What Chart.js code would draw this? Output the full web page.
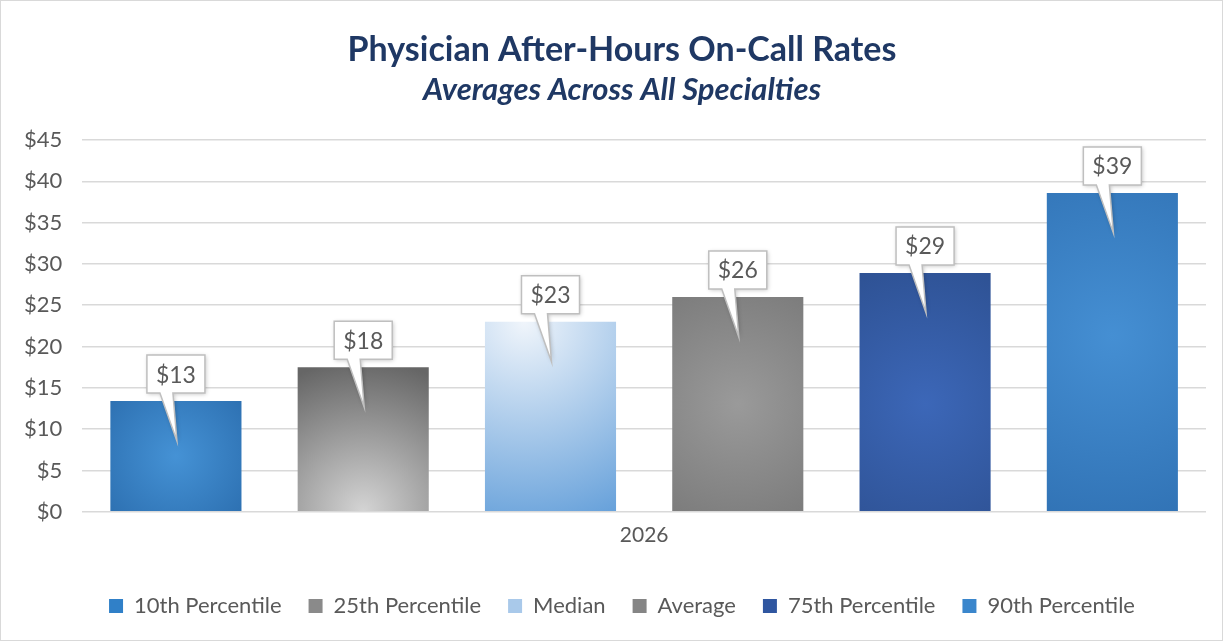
<!DOCTYPE html>
<html>
<head>
<meta charset="utf-8">
<script src="https://cdn.jsdelivr.net/npm/chart.js@4.4.1/dist/chart.umd.min.js"></script>
<style>
  html, body { margin: 0; padding: 0; background: #fff; }
  #wrap { position: relative; width: 1225px; height: 643px; }
  #frame { position: absolute; left: 0; top: 0; width: 1221px; height: 639px; border: 1px solid #d9d9d9; pointer-events: none; }
</style>
</head>
<body>
<div id="wrap">
  <canvas id="onCallChart"></canvas>
  <div id="frame"></div>
</div>
<script>
// chart data
const categories = ['2026'];
const seriesNames = ['10th Percentile', '25th Percentile', 'Median', 'Average', '75th Percentile', '90th Percentile'];
const seriesValues = [13.4, 17.5, 23.0, 26.0, 28.9, 38.6];
const yMax = 45;
const yStep = 5;

// fill styles for each bar (radial gradients, office style)
const barFills = [
  { fx: 0.5,  fy: 0.5,  r: 0.75, inner: '#4592d5', outer: '#2a6cad' },
  { fx: 0.5,  fy: 1.0,  r: 1.05, inner: '#d4d4d4', outer: '#666666' },
  { fx: 0.3,  fy: 0.0,  r: 1.25, inner: '#f0f5fb', outer: '#5596d6' },
  { fx: 0.5,  fy: 0.5,  r: 0.75, inner: '#9a9a9a', outer: '#747474' },
  { fx: 0.5,  fy: 0.55, r: 0.75, inner: '#3c67b8', outer: '#2b4d8c' },
  { fx: 0.5,  fy: 0.45, r: 0.75, inner: '#458fd3', outer: '#2c6cae' }
];
const legendSwatches = ['#3080c8', '#8a8a8a', '#a9c9ea', '#858585', '#2f56a0', '#3a86cc'];

function barGradient(context) {
  const fill = barFills[context.datasetIndex];
  const el = context.element;
  if (!el || !isFinite(el.x) || !isFinite(el.base) || !isFinite(el.width)) {
    return fill.outer;
  }
  const ctx = context.chart.ctx;
  const w = el.width;
  const h = el.base - el.y;
  const cx = el.x - w / 2 + w * fill.fx;
  const cy = el.y + h * fill.fy;
  const r = Math.max(w, h) * fill.r;
  const g = ctx.createRadialGradient(cx, cy, 0, cx, cy, r);
  g.addColorStop(0, fill.inner);
  g.addColorStop(1, fill.outer);
  return g;
}

// title, subtitle and legend sit a little right of the plot centre
const shiftBlocksPlugin = {
  id: 'shiftBlocks',
  afterLayout(chart) {
    chart.boxes.forEach(box => {
      if (box instanceof Chart.Scale) return;
      box.left += 17;
      box.right += 17;
    });
  }
};

// callout boxes above each bar
const calloutPlugin = {
  id: 'callouts',
  afterDatasetsDraw(chart) {
    const ctx = chart.ctx;
    ctx.save();
    ctx.font = '23px Lato';
    chart.data.datasets.forEach((ds, i) => {
      const bar = chart.getDatasetMeta(i).data[0];
      if (!bar) return;
      const text = '$' + Math.round(ds.data[0]);
      const bw = ctx.measureText(text).width + 18;
      const bh = 38;
      const x = bar.x;
      const top = bar.y;
      const left = x - bw / 2;
      const bottom = top - 8;
      const boxTop = bottom - bh;

      ctx.beginPath();
      ctx.moveTo(left, boxTop);
      ctx.lineTo(left + bw, boxTop);
      ctx.lineTo(left + bw, bottom);
      ctx.lineTo(x - 3, bottom);
      ctx.lineTo(x + 1, top + 40);
      ctx.lineTo(x - 16, bottom);
      ctx.lineTo(left, bottom);
      ctx.closePath();
      ctx.shadowColor = 'rgba(0,0,0,0.25)';
      ctx.shadowBlur = 4;
      ctx.shadowOffsetX = 1;
      ctx.shadowOffsetY = 1;
      ctx.fillStyle = '#ffffff';
      ctx.fill();
      ctx.shadowColor = 'transparent';
      ctx.strokeStyle = '#bfbfbf';
      ctx.lineWidth = 1.5;
      ctx.stroke();

      ctx.fillStyle = '#595959';
      ctx.textAlign = 'center';
      ctx.textBaseline = 'middle';
      ctx.fillText(text, x, boxTop + bh / 2 + 1);
    });
    ctx.restore();
  }
};

const datasets = seriesNames.map((name, i) => ({
  label: name,
  data: [seriesValues[i]],
  backgroundColor: barGradient,
  borderWidth: 0,
  categoryPercentage: 1.0,
  barPercentage: 0.7
}));

const chart = new Chart(document.getElementById('onCallChart'), {
  type: 'bar',
  data: { labels: categories, datasets: datasets },
  options: {
    responsive: true,
    maintainAspectRatio: false,
    animation: false,
    layout: { padding: { left: 4, right: 19, bottom: 16 } },
    plugins: {
      title: {
        display: true,
        text: 'Physician After-Hours On-Call Rates',
        color: '#1f3864',
        font: { family: 'Lato', size: 34, weight: 'bold' },
        padding: { top: 30, bottom: 0 }
      },
      subtitle: {
        display: true,
        text: 'Averages Across All Specialties',
        color: '#1f3864',
        font: { family: 'Lato', size: 31, weight: 'bold', style: 'italic' },
        padding: { top: 1, bottom: 31 }
      },
      legend: {
        position: 'bottom',
        labels: {
          color: '#595959',
          font: { family: 'Lato', size: 22 },
          boxWidth: 14,
          boxHeight: 14,
          padding: 27,
          generateLabels: c => c.data.datasets.map((ds, i) => ({
            text: ds.label,
            fillStyle: legendSwatches[i],
            strokeStyle: legendSwatches[i],
            lineWidth: 0,
            hidden: false,
            datasetIndex: i,
            fontColor: '#595959'
          }))
        }
      },
      tooltip: { enabled: false }
    },
    scales: {
      x: {
        grid: { display: false },
        border: { display: false },
        ticks: { color: '#595959', font: { family: 'Lato', size: 21 }, padding: 3 },
        afterFit: scale => { scale.height += 17; }
      },
      y: {
        min: 0,
        max: yMax,
        ticks: {
          stepSize: yStep,
          color: '#595959',
          font: { family: 'Lato', size: 22 },
          padding: 20,
          callback: v => '$' + v
        },
        grid: { color: '#d9d9d9', lineWidth: 1.5, drawTicks: false },
        border: { display: false }
      }
    }
  },
  plugins: [shiftBlocksPlugin, calloutPlugin]
});

// second pass so the gradients can use the laid-out bar positions
chart.update('none');
</script>
</body>
</html>
